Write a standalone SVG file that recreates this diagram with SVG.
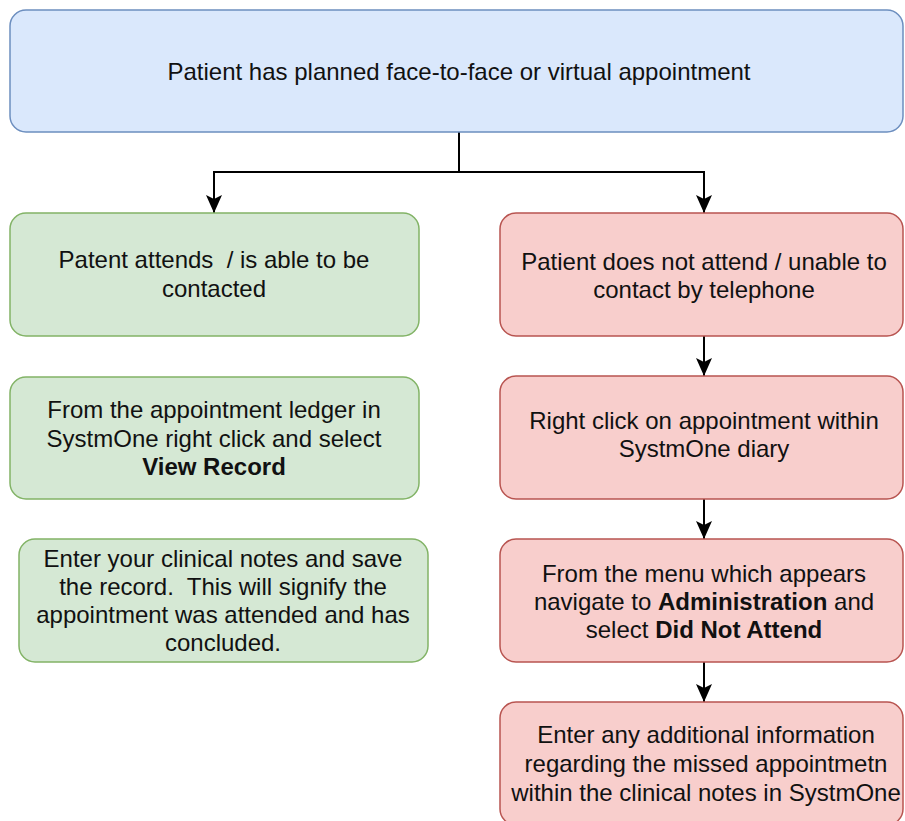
<svg xmlns="http://www.w3.org/2000/svg" width="905" height="821" viewBox="0 0 905 821">
<style>
text{font-family:"Liberation Sans",Arial,Helvetica,sans-serif;font-size:24px;fill:#111;text-anchor:middle;white-space:pre}
.b{font-weight:bold}
.blue{fill:#dae8fc;stroke:#6c8ebf;stroke-width:1.5}
.green{fill:#d5e8d4;stroke:#82b366;stroke-width:1.5}
.red{fill:#f8cecc;stroke:#b85450;stroke-width:1.5}
.edge{fill:none;stroke:#000;stroke-width:2}
</style>
<defs>
<marker id="arr" markerUnits="userSpaceOnUse" markerWidth="18" markerHeight="16" refX="18" refY="8" orient="auto">
<path d="M0,0 L18,8 L0,16 L4,8 Z" fill="#000"/>
</marker>
</defs>
<g id="connectors">
<path class="edge" d="M459,132 V172"/>
<path class="edge" d="M459,172 H214 V213" marker-end="url(#arr)"/>
<path class="edge" d="M459,172 H704 V213" marker-end="url(#arr)"/>
<path class="edge" d="M704,336 V376" marker-end="url(#arr)"/>
<path class="edge" d="M704,499 V539" marker-end="url(#arr)"/>
<path class="edge" d="M704,662 V702" marker-end="url(#arr)"/>
</g>
<g id="start">
<rect class="blue" x="10" y="10" width="893" height="122" rx="16"/>
<text x="459" y="80">Patient has planned face-to-face or virtual appointment</text>
</g>
<g id="attends">
<rect class="green" x="10" y="213" width="409" height="123" rx="16"/>
<text x="214" y="268">Patent attends  / is able to be</text>
<text x="214" y="297">contacted</text>
</g>
<g id="view-record">
<rect class="green" x="10" y="377" width="409" height="122" rx="16"/>
<text x="214" y="418">From the appointment ledger in</text>
<text x="214" y="447">SystmOne right click and select</text>
<text x="214" y="475" class="b">View Record</text>
</g>
<g id="clinical-notes">
<rect class="green" x="19" y="539" width="409" height="123" rx="16"/>
<text x="223" y="567">Enter your clinical notes and save</text>
<text x="223" y="595">the record.  This will signify the</text>
<text x="223" y="623">appointment was attended and has</text>
<text x="223" y="651">concluded.</text>
</g>
<g id="dna">
<rect class="red" x="500" y="213" width="403" height="123" rx="16"/>
<text x="704" y="270">Patient does not attend / unable to</text>
<text x="704" y="298">contact by telephone</text>
</g>
<g id="right-click">
<rect class="red" x="500" y="376" width="403" height="123" rx="16"/>
<text x="704" y="429">Right click on appointment within</text>
<text x="704" y="457">SystmOne diary</text>
</g>
<g id="administration">
<rect class="red" x="500" y="539" width="403" height="123" rx="16"/>
<text x="704" y="582">From the menu which appears</text>
<text x="704" y="610">navigate to <tspan class="b">Administration</tspan> and</text>
<text x="704" y="638">select <tspan class="b">Did Not Attend</tspan></text>
</g>
<g id="additional-info">
<rect class="red" x="500" y="702" width="403" height="123" rx="16"/>
<text x="706" y="743">Enter any additional information</text>
<text x="706" y="772">regarding the missed appointmetn</text>
<text x="706" y="801">within the clinical notes in SystmOne</text>
</g>
</svg>
